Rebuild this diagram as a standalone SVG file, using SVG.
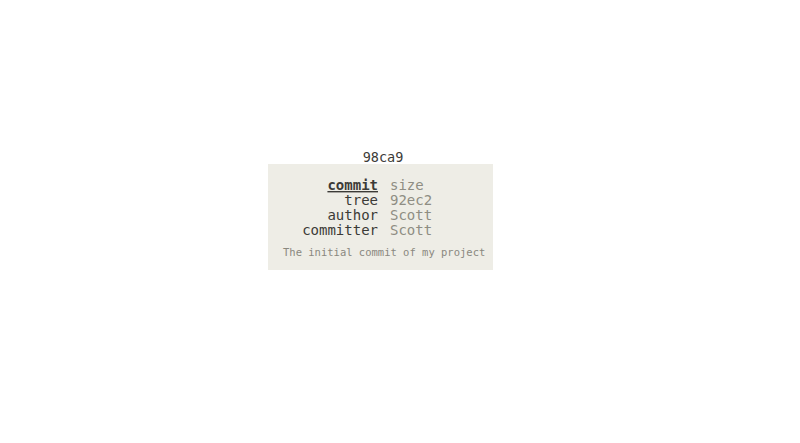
<svg xmlns="http://www.w3.org/2000/svg" width="800" height="443" viewBox="0 0 800 443">
<style>
text{font-family:"DejaVu Sans Mono","Liberation Mono",monospace}
.k{font-size:14px;fill:#3c3b37;text-anchor:end}
.v{font-size:14px;fill:#8f8d83}
.m{font-size:10.5px;fill:#8a887f}
</style>
<rect width="800" height="443" fill="#ffffff"/>
<g id="commit-98ca9">
<text x="383" y="162" fill="#3c3b37" text-anchor="middle" style="font-size:13.5px">98ca9</text>
<rect x="268" y="164" width="225" height="106" fill="#eeede6"/>
<text class="k" x="378" y="190" font-weight="bold" text-decoration="underline">commit</text>
<text class="v" x="390" y="190">size</text>
<text class="k" x="378" y="205">tree</text>
<text class="v" x="390" y="205">92ec2</text>
<text class="k" x="378" y="220">author</text>
<text class="v" x="390" y="220">Scott</text>
<text class="k" x="378" y="235">committer</text>
<text class="v" x="390" y="235">Scott</text>
<text class="m" x="283" y="256">The initial commit of my project</text>
</g>
<g id="connectors"/>
</svg>
